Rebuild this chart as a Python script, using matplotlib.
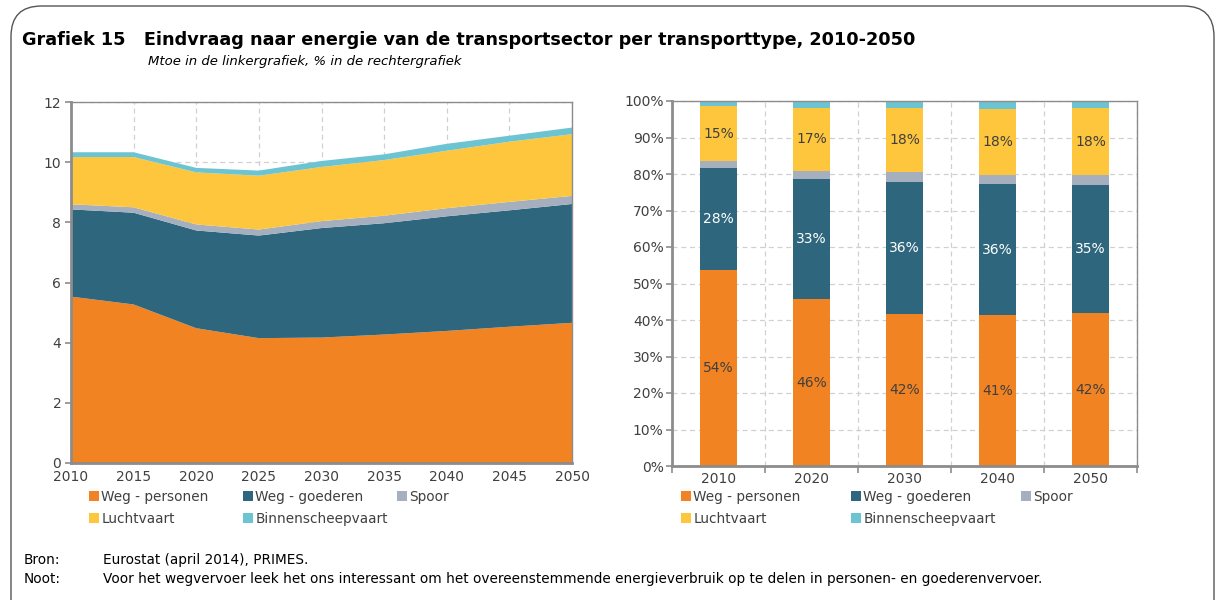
import matplotlib
matplotlib.use("Agg")
import matplotlib.pyplot as plt
from matplotlib.patches import FancyBboxPatch, Patch
from matplotlib.ticker import MultipleLocator, FixedLocator, FuncFormatter
import numpy as np

plt.rcParams['font.family'] = ['DejaVu Sans']

# ---------- data ----------
years = [2010, 2015, 2020, 2025, 2030, 2035, 2040, 2045, 2050]
weg_personen = [5.53, 5.27, 4.48, 4.15, 4.17, 4.27, 4.39, 4.53, 4.66]
weg_goederen = [2.90, 3.05, 3.25, 3.41, 3.64, 3.70, 3.81, 3.87, 3.95]
spoor = [0.17, 0.18, 0.20, 0.20, 0.23, 0.25, 0.27, 0.28, 0.27]
luchtvaart = [1.57, 1.67, 1.73, 1.79, 1.80, 1.85, 1.91, 2.00, 2.05]
binnenscheepvaart = [0.16, 0.16, 0.15, 0.17, 0.20, 0.19, 0.23, 0.20, 0.22]

bar_years = ['2010', '2020', '2030', '2040', '2050']
pct_weg_personen = [53.6, 45.7, 41.6, 41.3, 41.8]
pct_weg_goederen = [28.0, 33.0, 36.2, 36.0, 35.3]
pct_spoor = [1.9, 2.2, 2.7, 2.5, 2.6]
pct_luchtvaart = [15.1, 17.3, 17.6, 18.1, 18.3]
pct_binnenscheepvaart = [1.4, 1.8, 1.9, 2.1, 2.0]

series_names = ['Weg - personen', 'Weg - goederen', 'Spoor', 'Luchtvaart', 'Binnenscheepvaart']
colors = ['#F28322', '#2E677D', '#A5AFBD', '#FEC63D', '#6CC4D3']

title = 'Grafiek 15   Eindvraag naar energie van de transportsector per transporttype, 2010-2050'
subtitle = 'Mtoe in de linkergrafiek, % in de rechtergrafiek'

txt = '#404040'
spine_c = '#8C8C8C'
grid_c = '#D0D0D0'

W, H = 1219, 600
fig = plt.figure(figsize=(W / 100, H / 100), dpi=100)

# outer rounded border
border = FancyBboxPatch((11 / W, -0.1), (1214 - 11) / W, (1 - 6 / H) + 0.1,
                        boxstyle='round,pad=0,rounding_size=0.025',
                        transform=fig.transFigure, fill=False, edgecolor='#555555',
                        linewidth=1.0, mutation_aspect=W / H)
fig.patches.append(border)

fig.text(22 / W, 1 - 40 / H, title, fontsize=12.7, fontweight='bold', color='black',
         va='center', ha='left')
fig.text(148 / W, 1 - 61 / H, subtitle, fontsize=9.5, style='italic', color='black',
         va='center', ha='left')


def style_axes(ax):
    for s in ax.spines.values():
        s.set_color(spine_c)
        s.set_linewidth(1.0)
    ax.spines['left'].set_linewidth(2.0)
    ax.spines['bottom'].set_linewidth(2.0)
    ax.tick_params(colors=spine_c, labelcolor=txt, labelsize=10, length=4, width=1.2)
    ax.set_axisbelow(True)


handles = [Patch(facecolor=c, edgecolor='none') for c in colors]


def legend_item(idx, xpx, ypx):
    lg = fig.legend([handles[idx]], [series_names[idx]], loc='center left',
                    bbox_to_anchor=(xpx / W, 1 - ypx / H), frameon=False, fontsize=9.8,
                    handlelength=0.7, handleheight=0.7, handletextpad=0.2,
                    borderaxespad=0, borderpad=0)
    for t in lg.get_texts():
        t.set_color(txt)


# ---------- left: stacked area ----------
axL = fig.add_axes([71 / W, 1 - 463 / H, (572 - 71) / W, (463 - 102) / H])
axL.stackplot(years, weg_personen, weg_goederen, spoor, luchtvaart, binnenscheepvaart,
              colors=colors, linewidth=0)
axL.set_xlim(2010, 2050)
axL.set_ylim(0, 12)
axL.xaxis.set_major_locator(MultipleLocator(5))
axL.yaxis.set_major_locator(MultipleLocator(2))
axL.grid(True, color=grid_c, linestyle=(0, (4, 3)), linewidth=0.9)
style_axes(axL)
axL.tick_params(axis='x', length=0, pad=5)
axL.tick_params(axis='y', pad=3)

left_cols = [89, 243, 397]
right_cols = [681, 851, 1021]
rows = [497, 519]
grid_pos = [(0, 0), (1, 0), (2, 0), (0, 1), (1, 1)]
for i, (c, r) in enumerate(grid_pos):
    legend_item(i, left_cols[c], rows[r])
    legend_item(i, right_cols[c], rows[r])

# ---------- right: 100% stacked bars ----------
axR = fig.add_axes([672 / W, 1 - 466 / H, (1137 - 672) / W, (466 - 101) / H])
x = np.arange(len(bar_years))
pct_series = [pct_weg_personen, pct_weg_goederen, pct_spoor, pct_luchtvaart, pct_binnenscheepvaart]
bottom = np.zeros(len(bar_years))
label_colors = {0: txt, 1: 'white', 3: txt}
for i, (vals, c) in enumerate(zip(pct_series, colors)):
    vals = np.array(vals)
    axR.bar(x, vals, bottom=bottom, width=0.4, color=c, linewidth=0)
    if i in label_colors:
        for xi, v, b in zip(x, vals, bottom):
            axR.text(xi, b + v / 2, f'{round(v):.0f}%', ha='center', va='center',
                     fontsize=10, color=label_colors[i])
    bottom += vals
axR.set_xlim(-0.5, len(bar_years) - 0.5)
axR.set_ylim(0, 100)
axR.set_xticks(x)
axR.set_xticklabels(bar_years)
axR.xaxis.set_minor_locator(FixedLocator(np.arange(-0.5, len(bar_years), 1.0)))
axR.yaxis.set_major_locator(MultipleLocator(10))
axR.yaxis.set_major_formatter(FuncFormatter(lambda v, p: f'{v:.0f}%'))
axR.grid(True, axis='y', color=grid_c, linestyle=(0, (4, 3)), linewidth=0.9)
axR.grid(True, axis='x', which='minor', color=grid_c, linestyle=(0, (4, 3)), linewidth=0.9)
style_axes(axR)
axR.tick_params(axis='x', which='major', length=0, pad=4)
axR.tick_params(axis='x', which='minor', length=5, width=1.2, color=spine_c)
axR.tick_params(axis='y', pad=2)

# ---------- footer ----------
fs = 9.8
fig.text(24 / W, 1 - 560 / H, 'Bron:', fontsize=fs, color='black', va='center')
fig.text(103 / W, 1 - 560 / H, 'Eurostat (april 2014), PRIMES.', fontsize=fs,
         color='black', va='center')
fig.text(24 / W, 1 - 579 / H, 'Noot:', fontsize=fs, color='black', va='center')
fig.text(103 / W, 1 - 579 / H,
         'Voor het wegvervoer leek het ons interessant om het overeenstemmende energieverbruik '
         'op te delen in personen- en goederenvervoer.', fontsize=fs, color='black', va='center')

fig.savefig('out.png', dpi=100)
